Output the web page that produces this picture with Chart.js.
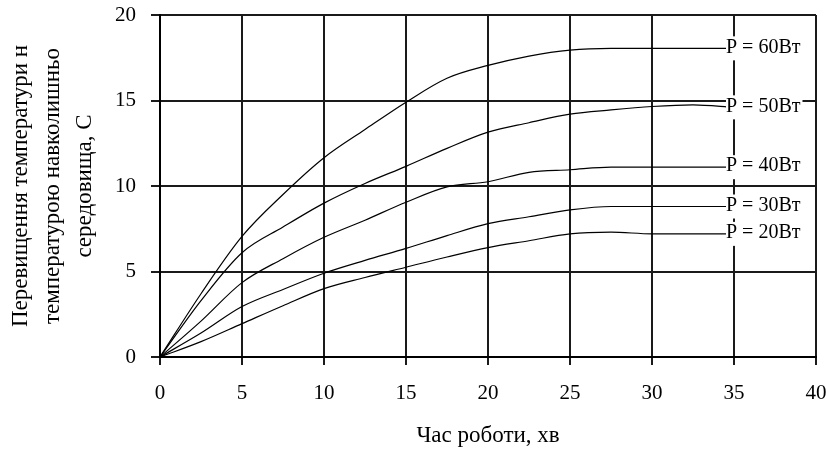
<!DOCTYPE html>
<html>
<head>
<meta charset="utf-8">
<script src="https://cdn.jsdelivr.net/npm/chart.js@4.4.0/dist/chart.umd.min.js"></script>
<style>
  html, body { margin: 0; padding: 0; background: #fff; }
</style>
</head>
<body>
<canvas id="myChart" width="826" height="450"></canvas>
<script>
// time, minutes
const minutes = [0, 2.5, 5, 7.5, 10, 12.5, 15, 17.5, 20, 22.5, 25, 27.5, 30, 32.5, 35];

// temperature rise, C
const p60 = [0, 3.7, 7.05, 9.5, 11.65, 13.3, 14.9, 16.3, 17.05, 17.6, 17.95, 18.05, 18.05, 18.05, 18.05];
const p50 = [0, 3.3, 6.1, 7.6, 9.0, 10.15, 11.15, 12.2, 13.15, 13.7, 14.2, 14.45, 14.65, 14.75, 14.6];
const p40 = [0, 2.1, 4.35, 5.75, 7.0, 8.0, 9.05, 9.95, 10.25, 10.8, 10.95, 11.1, 11.1, 11.1, 11.1];
const p30 = [0, 1.4, 2.95, 3.95, 4.9, 5.65, 6.35, 7.1, 7.8, 8.2, 8.6, 8.8, 8.8, 8.8, 8.8];
const p20 = [0, 0.9, 1.95, 3.0, 4.0, 4.65, 5.25, 5.85, 6.4, 6.8, 7.2, 7.3, 7.2, 7.2, 7.2];

const seriesNames = ['P = 60Вт', 'P = 50Вт', 'P = 40Вт', 'P = 30Вт', 'P = 20Вт'];
const seriesValues = [p60, p50, p40, p30, p20];

const xTitle = 'Час роботи, хв';
const yTitle = ['Перевищення температури н', 'температурою навколишньо', 'середовища, С'];

const serif = '"Liberation Serif", "Times New Roman", serif';

// labels at the end of each curve, on a white box
const endLabels = {
  id: 'endLabels',
  afterDatasetsDraw(chart) {
    const ctx = chart.ctx;
    const xs = chart.scales.x;
    ctx.save();
    ctx.font = '20px ' + serif;
    ctx.textBaseline = 'middle';
    ctx.textAlign = 'left';
    chart.data.datasets.forEach((ds) => {
      const last = ds.data[ds.data.length - 1];
      const px = xs.getPixelForValue(last.x) - 9;
      const py = chart.scales.y.getPixelForValue(last.y);
      const w = ctx.measureText(ds.label).width;
      ctx.fillStyle = '#fff';
      ctx.fillRect(px + 1, py - 12, w + 2, 24);
      ctx.fillStyle = '#000';
      ctx.fillText(ds.label, px + 1, py - 1);
    });
    ctx.restore();
  }
};

const ctx = document.getElementById('myChart').getContext('2d');

new Chart(ctx, {
  type: 'line',
  data: {
    datasets: seriesValues.map((vals, i) => ({
      label: seriesNames[i],
      data: minutes.map((m, j) => ({ x: m, y: vals[j] })),
      borderColor: '#000',
      borderWidth: 1.2,
      pointRadius: 0,
      cubicInterpolationMode: 'monotone',
      fill: false
    }))
  },
  options: {
    responsive: false,
    animation: false,
    devicePixelRatio: 1,
    layout: { padding: { top: 15, right: 10, left: 0, bottom: 0 } },
    plugins: {
      legend: { display: false },
      tooltip: { enabled: false }
    },
    scales: {
      x: {
        type: 'linear',
        min: 0,
        max: 40,
        afterFit: (s) => { s.height = 93; s.paddingLeft = 0; s.paddingRight = 0; },
        ticks: {
          stepSize: 5,
          color: '#000',
          padding: 16,
          font: { family: serif, size: 21 }
        },
        grid: { color: '#1a1a1a', lineWidth: 2, tickLength: 8 },
        border: { color: '#000', width: 2 },
        title: {
          display: true,
          text: xTitle,
          color: '#000',
          padding: { top: 0, bottom: 0 },
          font: { family: serif, size: 23 }
        }
      },
      y: {
        min: 0,
        max: 20,
        afterFit: (s) => { s.width = 160; s.paddingTop = 0; s.paddingBottom = 0; },
        ticks: {
          stepSize: 5,
          color: '#000',
          padding: 15,
          font: { family: serif, size: 21 }
        },
        grid: { color: '#1a1a1a', lineWidth: 2, tickLength: 9 },
        border: { color: '#000', width: 2 },
        title: {
          display: true,
          text: yTitle,
          color: '#000',
          padding: { top: 5, bottom: 0 },
          font: { family: serif, size: 23, lineHeight: '32px' }
        }
      }
    }
  },
  plugins: [endLabels]
});
</script>
</body>
</html>
